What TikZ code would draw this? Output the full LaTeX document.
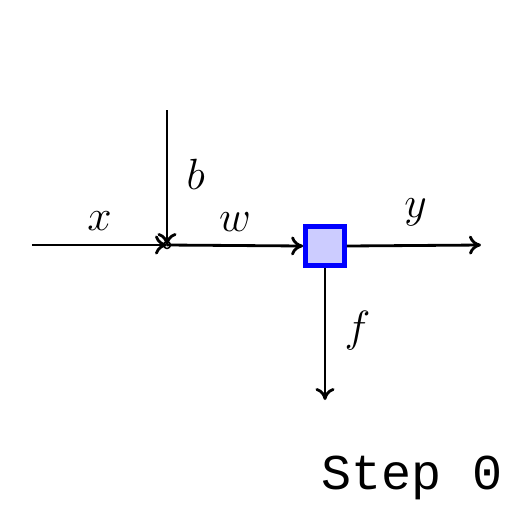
\documentclass[tikz,border=0pt]{standalone}
\usepackage{fontspec}
\setmonofont{Liberation Mono}
\usetikzlibrary{positioning,arrows.meta}

\begin{document}
\begin{tikzpicture}[x=0.02cm,y=-0.02cm,
 every node/.style={font=\fontsize{28}{32}\selectfont},
 blockbox/.style={draw=blue,line width=2.7pt,fill=blue!20,minimum size=0.78cm,inner sep=0pt},
 joint/.style={circle,draw,line width=0.8pt,inner sep=0pt,minimum size=4pt},
 arr/.style={-{To[length=2.4mm,width=3.8mm]},line width=1.6pt}]
\useasboundingbox (0,0) rectangle (512,512);
\node[joint] (j) at (167,245) {};
\node[blockbox] (blk) at (325,246) {};
\coordinate (xin) at (32,245);
\coordinate (bin) at (167,110);
\coordinate (yout) at (481,245);
\coordinate (fout) at (325,400);
\draw[arr] (xin) -- (j.center) node[midway,above=4pt] {$x$};
\draw[arr] (bin) -- (j.center) node[midway,right=7pt,yshift=2pt] {$b$};
\draw[arr] (j.center) -- (blk.west) node[midway,above=4pt] {$w$};
\draw[arr] (blk.east) -- (yout) node[midway,above=7pt,xshift=1pt] {$y$};
\draw[arr] (blk.south) -- (fout) node[midway,right=7pt,yshift=2pt] {$f$};
\node[font=\fontsize{28.5}{34}\selectfont\ttfamily] (step) at (412,478) {Step 0};
\end{tikzpicture}
\end{document}
